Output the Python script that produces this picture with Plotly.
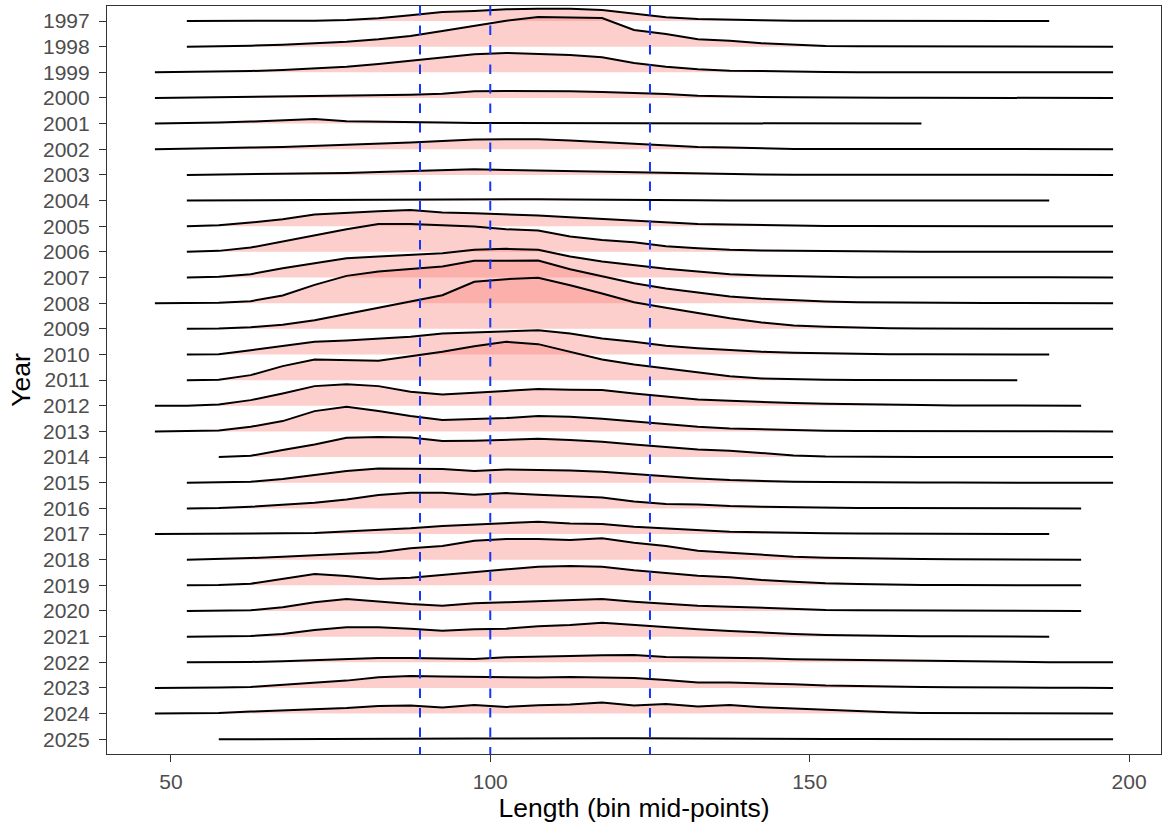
import plotly.graph_objects as go

# Length bin mid-points (cm)
bins = [47.5 + 5 * i for i in range(31)]
years = list(range(1997, 2026))

# Ridge heights per year (relative frequency units; None = no data in that bin)
h1997 = [None, 0, 0, 0.5, 1, 1, 3, 8, 17, 27, 30, 35, 37, 37, 33, 23, 11, 6, 3, 2, 1, 1, 1, 0.5, 0.5, 0.5, 0.5, 0.5, 0, None, None]
h1998 = [None, 0, 1, 3, 6, 10, 15, 22, 32, 47, 62, 78, 89, 88, 86, 50, 38, 22, 18, 10, 6, 2, 1, 1, 0.5, 0.5, 0.5, 0.5, 0.5, 0.5, 0]
h1999 = [0, 1, 2, 4, 7, 11, 17, 25, 34, 45, 54, 58, 56, 52, 45, 28, 17, 9, 5, 3, 2, 1, 0.5, 0.5, 0.5, 0.5, 0.5, 0.5, 0.5, 0.5, 0]
h2000 = [0, 1, 2, 3, 5, 6, 7, 9, 10, 13, 20, 21, 21, 20, 18, 16, 12, 7, 4, 3, 2, 1, 0.5, 0.5, 0.5, 0.5, 0.5, 0.5, 0.5, 0.5, 0]
h2001 = [0, 1, 3, 6, 10, 14, 7, 5, 3, 3, 2, 2, 2, 1.5, 1.5, 1, 1, 1, 1, 1, 0.5, 0.5, 0.5, 0.5, 0, None, None, None, None, None, None]
h2002 = [0, 1, 3, 5, 7, 10, 12, 15, 20, 25, 29, 30, 30, 26, 21, 15, 10, 7, 5, 2, 1, 1, 0.5, 0.5, 0.5, 0.5, 0.5, 0.5, 0.5, 0.5, 0]
h2003 = [None, 0, 1, 2, 3, 5, 6, 9, 11, 14, 17, 15, 13, 12, 10, 7, 5, 3, 2, 1, 0.5, 0.5, 0.5, 0.5, 0.5, 0.5, 0.5, 0.5, 0.5, 0.5, 0]
h2004 = [None, 0, 0.5, 1, 1, 2, 2, 3, 3, 3, 4, 4, 4, 3, 3, 2, 1, 1, 0.5, 0.5, 0.5, 0.5, 0.5, 0.5, 0.5, 0.5, 0.5, 0.5, 0, None, None]
h2005 = [None, 0, 3, 11, 21, 35, 41, 45, 49, 41, 39, 36, 32, 27, 22, 15, 10, 7, 5, 3, 2, 1, 0.5, 0.5, 0.5, 0.5, 0.5, 0.5, 0.5, 0.5, 0]
h2006 = [None, 0, 3, 13, 31, 51, 68, 84, 84, 80, 76, 68, 64, 46, 36, 29, 17, 11, 6, 4, 3, 2, 1, 0.5, 0.5, 0.5, 0.5, 0.5, 0.5, 0.5, 0]
h2007 = [None, 0, 2, 10, 28, 43, 58, 63, 68, 73, 83, 86, 83, 63, 48, 37, 26, 18, 10, 6, 3, 2, 1, 0.5, 0.5, 0.5, 0.5, 0.5, 0.5, 0.5, 0]
h2008 = [0, 0, 1, 6, 23, 55, 82, 95, 103, 110, 127, 128, 128, 102, 82, 60, 44, 31, 20, 13, 8, 5, 3, 2, 1, 0.5, 0.5, 0.5, 0.5, 0.5, 0]
h2009 = [None, 0, 1, 5, 12, 26, 45, 64, 82, 101, 141, 149, 153, 131, 106, 80, 63, 47, 32, 19, 10, 6, 3, 2, 1, 0.5, 0.5, 0.5, 0.5, 0.5, 0]
h2010 = [None, 0, 1, 13, 26, 38, 42, 48, 53, 63, 66, 69, 73, 63, 48, 38, 26, 19, 13, 8, 5, 3, 2, 1, 1, 1, 1, 1, 0, None, None]
h2011 = [None, 0, 1, 15, 42, 62, 61, 58, 72, 85, 102, 115, 108, 85, 62, 47, 35, 22, 12, 5, 2, 1, 0.5, 0.5, 0.5, 0.5, 0.5, 0, None, None, None]
h2012 = [0, 0, 4, 17, 37, 59, 65, 59, 42, 34, 39, 44, 50, 48, 47, 37, 27, 19, 15, 11, 8, 6, 4, 3, 2, 1, 1, 0.5, 0.5, 0, None]
h2013 = [0, 1, 3, 14, 31, 61, 74, 61, 46, 34, 36, 40, 46, 44, 38, 30, 24, 14, 9, 6, 4, 2, 1, 0.5, 0.5, 0.5, 0.5, 0.5, 0.5, 0.5, 0]
h2014 = [None, None, 0, 4, 21, 38, 58, 60, 59, 48, 49, 51, 55, 51, 46, 38, 31, 23, 19, 11, 5, 2, 1, 0.5, 0.5, 0.5, 0.5, 0.5, 0.5, 0.5, 0]
h2015 = [None, 0, 1, 3, 11, 23, 35, 43, 42, 41, 35, 40, 38, 37, 33, 26, 18, 13, 8, 5, 3, 2, 1, 0.5, 0.5, 0.5, 0.5, 0.5, 0.5, 0.5, 0]
h2016 = [None, 0, 1, 5, 10, 17, 27, 40, 47, 47, 41, 46, 41, 36, 33, 21, 13, 12, 7, 5, 3, 2, 1, 1, 1, 1, 1, 0.5, 0.5, 0, None]
h2017 = [0, 0, 0.5, 1, 2, 3, 7, 11, 17, 24, 28, 32, 37, 32, 30, 22, 17, 10, 7, 5, 3, 2, 1.5, 1, 1, 1, 0.5, 0.5, 0, None, None]
h2018 = [None, 0, 2, 5, 9, 14, 17, 22, 34, 41, 57, 62, 62, 59, 64, 51, 41, 27, 21, 14, 9, 6, 4, 3, 2, 1, 1, 1, 1, 0, None]
h2019 = [None, 0, 1, 5, 19, 34, 28, 19, 23, 31, 39, 49, 56, 58, 56, 45, 36, 29, 24, 16, 11, 6, 4, 2, 1, 1, 1, 1, 1, 0, None]
h2020 = [None, 0, 0.5, 2, 11, 26, 36, 28, 21, 16, 23, 26, 30, 33, 36, 28, 21, 16, 13, 9, 6, 3, 2, 1.5, 1, 1, 1, 1, 1, 0, None]
h2021 = [None, 0, 0.5, 2, 8, 20, 28, 28, 24, 18, 22, 24, 31, 35, 42, 35, 28, 22, 17, 12, 8, 5, 3, 1.5, 1, 1, 0.5, 0.5, 0, None, None]
h2022 = [None, 0, 0, 1, 3, 7, 11, 13, 13, 12, 10, 15, 18, 19, 21, 22, 16, 15, 15, 12, 9, 8, 7, 5, 3, 2, 1, 0.5, 0.5, 0.5, 0]
h2023 = [0, 0, 1, 3, 9, 17, 22, 32, 36, 34, 33, 30, 31, 33, 31, 30, 24, 16, 16, 14, 11, 7, 5, 4, 3, 2, 1, 0.5, 0.5, 0.5, 0]
h2024 = [0, 0, 2, 6, 9, 13, 17, 23, 24, 18, 26, 20, 25, 27, 33, 24, 29, 21, 26, 19, 15, 10, 7, 4, 2, 1.5, 1, 1, 1, 1, 0]
h2025 = [None, None, 0, 0.5, 1, 1, 2, 2, 2, 2, 2, 2, 3, 3, 3, 3, 3, 3, 3, 3, 2, 1, 0.5, 0.5, 0.5, 0.5, 0.5, 0.5, 0.5, 0.5, 0]

heights = [h1997, h1998, h1999, h2000, h2001, h2002, h2003, h2004, h2005, h2006,
           h2007, h2008, h2009, h2010, h2011, h2012, h2013, h2014, h2015, h2016,
           h2017, h2018, h2019, h2020, h2021, h2022, h2023, h2024, h2025]

ref_lengths = [89, 100, 125]
height_scale = 77.0  # height units per one row of the y axis

fill_col = "rgba(248,118,109,0.35)"
font_fam = "Liberation Sans, Arial, Helvetica, sans-serif"

fig = go.Figure()
for yr, hs in zip(years, heights):
    xs = [b for b, h in zip(bins, hs) if h is not None]
    ys = [yr - h / height_scale for h in hs if h is not None]
    poly_x = xs + xs[::-1]
    poly_y = ys + [yr] * len(xs)
    fig.add_trace(go.Scatter(x=poly_x, y=poly_y, mode="lines", fill="toself",
                             fillcolor=fill_col, line=dict(width=0),
                             hoverinfo="skip", showlegend=False))
    fig.add_trace(go.Scatter(x=xs, y=ys, mode="lines",
                             line=dict(color="black", width=2),
                             showlegend=False, name=str(yr)))

for v in ref_lengths:
    fig.add_shape(type="line", xref="x", yref="paper", x0=v, x1=v, y0=1, y1=0,
                  line=dict(color="#1436FF", width=2, dash="9.5px,10px"), layer="above")

fig.update_layout(
    width=1163, height=828,
    margin=dict(l=107, r=2, t=6, b=74),
    paper_bgcolor="white", plot_bgcolor="white",
    font=dict(family=font_fam),
    showlegend=False,
)
fig.update_xaxes(
    range=[40, 205], tickvals=[50, 100, 150, 200], ticktext=["50", "100", "150", "200"],
    showgrid=False, zeroline=False,
    showline=True, mirror=True, linecolor="#333333", linewidth=1.2,
    ticks="outside", ticklen=7, tickwidth=1.2, tickcolor="#333333",
    ticklabelstandoff=2,
    tickfont=dict(size=21, color="#4D4D4D", family=font_fam),
    title=dict(text="Length (bin mid-points)", font=dict(size=26.5, color="black", family=font_fam), standoff=6),
)
fig.update_yaxes(
    range=[2025.575, 1996.415], tickvals=years, ticktext=[str(y) for y in years],
    showgrid=False, zeroline=False,
    showline=True, mirror=True, linecolor="#333333", linewidth=1.2,
    ticks="outside", ticklen=7, tickwidth=1.2, tickcolor="#333333",
    ticklabelstandoff=5,
    tickfont=dict(size=21, color="#4D4D4D", family=font_fam),
    title=dict(text="Year", font=dict(size=26.5, color="black", family=font_fam), standoff=4),
)

fig.write_html("out.html", config={"displayModeBar": False},
               post_script="document.body.style.margin='0';document.body.style.overflow='hidden';")
